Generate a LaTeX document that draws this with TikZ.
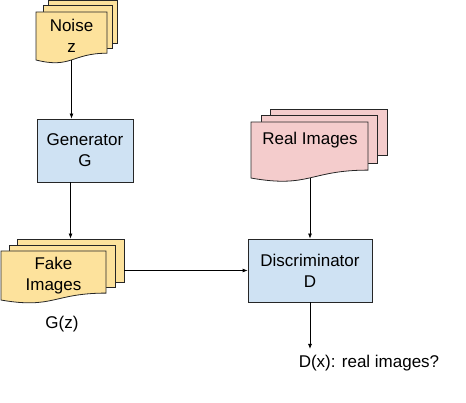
\documentclass[tikz,border=0pt]{standalone}
\usepackage{fontspec}
\setmainfont{Liberation Sans}
\usetikzlibrary{arrows.meta,calc}
\definecolor{docyellow}{HTML}{FDE29C}
\definecolor{docpink}{HTML}{F4CCCC}
\definecolor{boxblue}{HTML}{CFE2F3}
\newcommand\docsheet[5]{%
  \filldraw[sheetline, fill=#5] (#1,#2) -- (#3,#2) -- (#3,{#2+0.802*#4})
    .. controls ({(#1+#3)/2},{#2+0.802*#4}) and ({(#1+#3)/2},{#2+1.107*#4}) ..
    (#1,{#2+0.934*#4}) -- cycle;}
\begin{document}
\begin{tikzpicture}[x=1pt,y=-1pt,
  sheetline/.style={draw=black!85, line width=0.8pt},
  backsheet/.style={sheetline, rectangle, inner sep=0pt},
  boxnode/.style={draw=black!85, line width=0.8pt, fill=boxblue, rectangle, inner sep=0pt, align=center, font=\fontsize{17}{21}\selectfont},
  txt/.style={inner sep=0pt, align=center, font=\fontsize{17}{21}\selectfont},
  ghost/.style={inner sep=0pt, rectangle},
  conn/.style={draw=black, line width=0.8pt, -{Latex[length=5pt,width=4pt]}}]
\useasboundingbox (0,0) rectangle (466,403);
% Noise stack
\node[backsheet, fill=docyellow, minimum width=69pt, minimum height=43pt] (noiseback) at (82.5,21.5) {};
\node[backsheet, fill=docyellow, minimum width=69pt, minimum height=43pt] (noisemid) at (77.5,26.5) {};
\docsheet{36}{12}{107}{51.4}{docyellow}
\node[txt, minimum width=71pt, minimum height=48pt] (noise) at (71.5,36) {Noise\\z};
% Generator
\node[boxnode, minimum width=96pt, minimum height=63pt] (gen) at (85,150.5) {Generator\\G};
% Fake images stack
\node[backsheet, fill=docyellow, minimum width=107pt, minimum height=43pt] (fakeback) at (70.5,260.5) {};
\node[backsheet, fill=docyellow, minimum width=106pt, minimum height=42pt] (fakemid) at (62,266) {};
\docsheet{1}{251}{106}{52.5}{docyellow}
\node[txt, minimum width=105pt, minimum height=49pt] (fake) at (53.5,276) {Fake\\Images};
\node[txt] (gz) at (62,324) {G(z)};
% Real images stack
\node[backsheet, fill=docpink, minimum width=117pt, minimum height=46pt] (realback) at (328.5,132) {};
\node[backsheet, fill=docpink, minimum width=116pt, minimum height=48pt] (realmid) at (319,139) {};
\docsheet{251}{122}{368}{60}{docpink}
\node[ghost, minimum width=117pt, minimum height=56pt] (realfront) at (310,150) {};
\node[txt] (real) at (310,140) {Real Images};
% Discriminator
\node[boxnode, minimum width=124pt, minimum height=63pt] (disc) at (310,270.5) {Discriminator\\D};
\node[txt] (out) at (369,363) {D(x): real images?};
\coordinate (dout) at (310,349);
% Connectors
\draw[conn] (noise.south) -- (noise.south |- gen.north);
\draw[conn] (gen.south -| fakeback.north) -- (fakeback.north);
\draw[conn] (fakeback.east |- disc.west) -- (disc.west);
\draw[conn] (realfront.south) -- (disc.north);
\draw[conn] (disc.south) -- (dout);
\end{tikzpicture}
\end{document}
